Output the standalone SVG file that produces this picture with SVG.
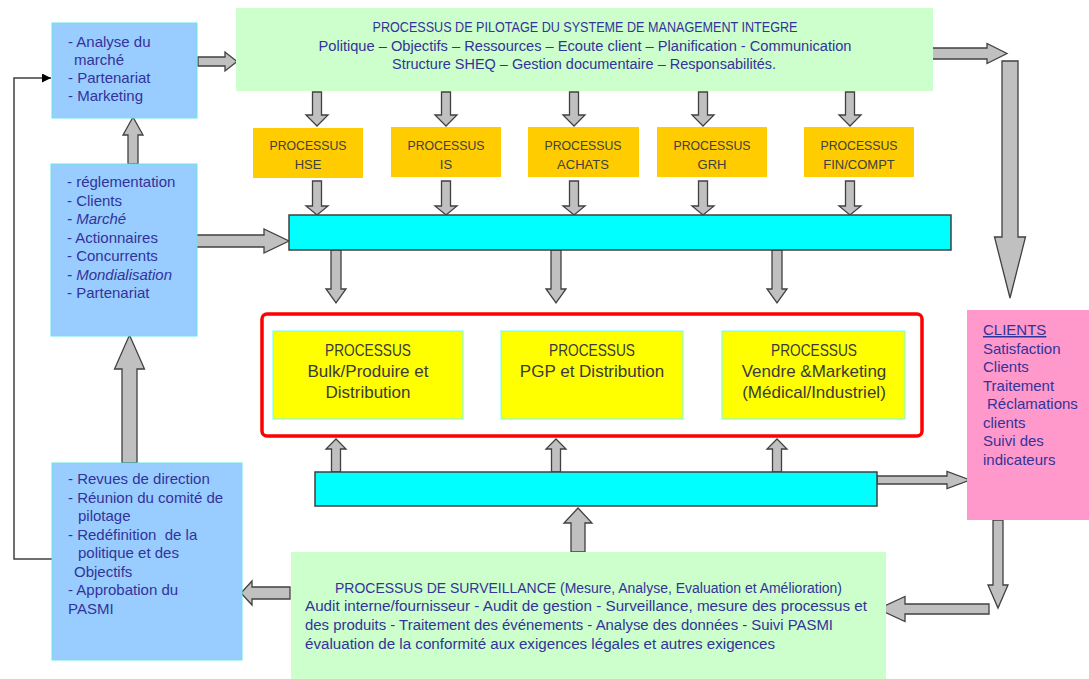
<svg xmlns="http://www.w3.org/2000/svg" xmlns:xlink="http://www.w3.org/1999/xlink" width="1089" height="679" viewBox="0 0 1089 679">
  <style>
    text { font-family: "Liberation Sans", Arial, sans-serif; }
    .blue { fill: #99CCFF; stroke: #66E6E6; stroke-width: 1; }
    .green { fill: #CCFFCC; }
    .orange { fill: #FFCC00; }
    .yellow { fill: #FFFF00; stroke: #66FFFF; stroke-width: 1; }
    .pink { fill: #FF99CC; }
    .bar { fill: #00FFFF; stroke: #404040; stroke-width: 1.5; }
    .frame { fill: #FFFFFF; stroke: #FF0000; stroke-width: 3.5; }
    .blk { fill: #C0C0C0; stroke: #404040; stroke-width: 1.3; stroke-linejoin: miter; }
    .navy { fill: #333399; font-size: 14px; }
    .list { fill: #333399; font-size: 15px; }
    .proc { fill: #404040; font-size: 13px; text-anchor: middle; }
    .core { fill: #3A3A3A; font-size: 17px; text-anchor: middle; }
    .mid { text-anchor: middle; }
    .feed { fill: none; stroke: #404040; stroke-width: 1.5; }
  </style>
  <defs>
    <!-- reusable block-arrow outlines, drawn from their base at the origin -->
    <path id="dnA" d="M-4.5,0 H4.5 V23 H11 L0,34 L-11,23 H-4.5 Z"/>
    <path id="dnB" d="M-4.5,0 H4.5 V25 H11 L0,34 L-11,25 H-4.5 Z"/>
    <path id="dnC" d="M-5,0 H5 V39 H10 L0,53 L-10,39 H-5 Z"/>
    <path id="upD" d="M-4.5,0 V-23 H-10 L0,-33 L10,-23 H4.5 V0 Z"/>
    <marker id="tip" viewBox="0 0 10 10" refX="10" refY="5" markerWidth="12" markerHeight="9" markerUnits="userSpaceOnUse" orient="auto">
      <path d="M0,0 L10,5 L0,10 Z" fill="#000000"/>
    </marker>
  </defs>

  <!-- connectors -->
  <g id="connectors">
    <polyline class="feed" points="52,559 14,559 14,78 51,78" marker-end="url(#tip)"/>

    <polygon class="blk" points="198,57 225,57 225,52 237,61.5 225,71 225,66 198,66"/>
    <polygon class="blk" points="932,48 987,48 987,43.5 1007,53.5 987,63.5 987,59 932,59"/>
    <polygon class="blk" points="1002,61 1018,61 1018,237 1025.5,237 1010,298 994.5,237 1002,237"/>
    <polygon class="blk" points="188,235 264,235 264,229 289,241 264,253 264,247 188,247"/>
    <polygon class="blk" points="128,164 128,135 123,135 133,117 143,135 138,135 138,164"/>
    <polygon class="blk" points="122,463 122,369 114.5,369 129.5,335 144.5,369 137,369 137,463"/>
    <polygon class="blk" points="290,587 252,587 252,581 241,593 252,605 252,599 290,599"/>
    <polygon class="blk" points="571,552 571,523 564,523 578,508 592,523 585,523 585,552"/>
    <polygon class="blk" points="877,476 947,476 947,471.5 970,480 947,488.5 947,484 877,484"/>
    <polygon class="blk" points="993,520 1003,520 1003,585 1008,585 998,608 988,585 993,585"/>
    <polygon class="blk" points="989,604 905,604 905,596.5 878,609 905,621.5 905,614 989,614"/>

    <!-- pilot box down to support processes -->
    <use class="blk" xlink:href="#dnA" x="317" y="92"/>
    <use class="blk" xlink:href="#dnA" x="446" y="92"/>
    <use class="blk" xlink:href="#dnA" x="574" y="92"/>
    <use class="blk" xlink:href="#dnA" x="703" y="92"/>
    <use class="blk" xlink:href="#dnA" x="850" y="92"/>
    <!-- support processes down to the upper bar -->
    <use class="blk" xlink:href="#dnB" x="317" y="181"/>
    <use class="blk" xlink:href="#dnB" x="446" y="181"/>
    <use class="blk" xlink:href="#dnB" x="574" y="181"/>
    <use class="blk" xlink:href="#dnB" x="703" y="181"/>
    <use class="blk" xlink:href="#dnB" x="850" y="181"/>
    <!-- upper bar down to the core processes -->
    <use class="blk" xlink:href="#dnC" x="336" y="250"/>
    <use class="blk" xlink:href="#dnC" x="556" y="250"/>
    <use class="blk" xlink:href="#dnC" x="777" y="250"/>
    <!-- lower bar up to the core processes -->
    <use class="blk" xlink:href="#upD" x="336" y="472"/>
    <use class="blk" xlink:href="#upD" x="556" y="472"/>
    <use class="blk" xlink:href="#upD" x="777" y="472"/>
  </g>

  <g id="marche">
    <rect class="blue" x="52" y="23" width="145" height="95"/>
    <text class="list" x="68" y="47">- Analyse du</text>
    <text class="list" x="74" y="65">marché</text>
    <text class="list" x="68" y="83">- Partenariat</text>
    <text class="list" x="68" y="101">- Marketing</text>
  </g>

  <g id="contexte">
    <rect class="blue" x="51" y="164" width="146" height="172"/>
    <text class="list" x="67" y="187">- réglementation</text>
    <text class="list" x="67" y="206">- Clients</text>
    <text class="list" x="67" y="224" font-style="italic">- Marché</text>
    <text class="list" x="67" y="243">- Actionnaires</text>
    <text class="list" x="67" y="261">- Concurrents</text>
    <text class="list" x="67" y="280" font-style="italic">- Mondialisation</text>
    <text class="list" x="67" y="298">- Partenariat</text>
  </g>

  <g id="revue">
    <rect class="blue" x="52" y="463" width="190" height="197"/>
    <text class="list" x="68" y="484">- Revues de direction</text>
    <text class="list" x="68" y="502.5">- Réunion du comité de</text>
    <text class="list" x="78" y="521">pilotage</text>
    <text class="list" x="68" y="539.5" xml:space="preserve">- Redéfinition  de la</text>
    <text class="list" x="78" y="558">politique et des</text>
    <text class="list" x="74" y="576.5">Objectifs</text>
    <text class="list" x="68" y="595">- Approbation du</text>
    <text class="list" x="68" y="613.5">PASMI</text>
  </g>

  <g id="pilotage">
    <rect class="green" x="236" y="8" width="697" height="83"/>
    <text class="navy mid" x="585" y="32" font-size="13" textLength="425" lengthAdjust="spacingAndGlyphs">PROCESSUS DE PILOTAGE DU SYSTEME DE MANAGEMENT INTEGRE</text>
    <text class="navy mid" x="585" y="51" textLength="533" lengthAdjust="spacingAndGlyphs">Politique – Objectifs – Ressources – Ecoute client – Planification - Communication</text>
    <text class="navy mid" x="584" y="69" textLength="384" lengthAdjust="spacingAndGlyphs">Structure SHEQ – Gestion documentaire – Responsabilités.</text>
  </g>

  <g id="hse">
    <rect class="orange" x="253" y="128" width="110" height="50"/>
    <text class="proc" x="308" y="150" textLength="77" lengthAdjust="spacingAndGlyphs">PROCESSUS</text>
    <text class="proc" x="308" y="169">HSE</text>
  </g>
  <g id="is">
    <rect class="orange" x="391" y="127" width="110" height="50"/>
    <text class="proc" x="446" y="149.5" textLength="77" lengthAdjust="spacingAndGlyphs">PROCESSUS</text>
    <text class="proc" x="446" y="168.5">IS</text>
  </g>
  <g id="achats">
    <rect class="orange" x="528" y="127" width="111" height="50"/>
    <text class="proc" x="583" y="149.5" textLength="77" lengthAdjust="spacingAndGlyphs">PROCESSUS</text>
    <text class="proc" x="583" y="168.5">ACHATS</text>
  </g>
  <g id="grh">
    <rect class="orange" x="657" y="127" width="110" height="50"/>
    <text class="proc" x="712" y="149.5" textLength="77" lengthAdjust="spacingAndGlyphs">PROCESSUS</text>
    <text class="proc" x="712" y="168.5">GRH</text>
  </g>
  <g id="fincompt">
    <rect class="orange" x="804" y="127" width="110" height="50"/>
    <text class="proc" x="859" y="149.5" textLength="77" lengthAdjust="spacingAndGlyphs">PROCESSUS</text>
    <text class="proc" x="859" y="168.5">FIN/COMPT</text>
  </g>

  <g id="bus-haut">
    <rect class="bar" x="289" y="215" width="662" height="35"/>
  </g>

  <g id="realisation">
    <rect class="frame" x="262" y="314" width="660" height="122" rx="5"/>
  </g>

  <g id="bulk">
    <rect class="yellow" x="273" y="331" width="190" height="88"/>
    <text class="core" x="368" y="356" textLength="86" lengthAdjust="spacingAndGlyphs">PROCESSUS</text>
    <text class="core" x="368" y="377">Bulk/Produire et</text>
    <text class="core" x="368" y="398">Distribution</text>
  </g>
  <g id="pgp">
    <rect class="yellow" x="501" y="331" width="182" height="88"/>
    <text class="core" x="592" y="356" textLength="86" lengthAdjust="spacingAndGlyphs">PROCESSUS</text>
    <text class="core" x="592" y="377">PGP et Distribution</text>
  </g>
  <g id="vendre">
    <rect class="yellow" x="722" y="331" width="183" height="88"/>
    <text class="core" x="814" y="356" textLength="86" lengthAdjust="spacingAndGlyphs">PROCESSUS</text>
    <text class="core" x="814" y="377">Vendre &amp;Marketing</text>
    <text class="core" x="814" y="398">(Médical/Industriel)</text>
  </g>

  <g id="bus-bas">
    <rect class="bar" x="315" y="472" width="562" height="34"/>
  </g>

  <g id="clients">
    <rect class="pink" x="967" y="310" width="122" height="210"/>
    <text class="list" x="983" y="335" text-decoration="underline">CLIENTS</text>
    <text class="list" x="983" y="354">Satisfaction</text>
    <text class="list" x="983" y="372">Clients</text>
    <text class="list" x="983" y="391">Traitement</text>
    <text class="list" x="987" y="409">Réclamations</text>
    <text class="list" x="983" y="428">clients</text>
    <text class="list" x="983" y="446">Suivi des</text>
    <text class="list" x="983" y="465">indicateurs</text>
  </g>

  <g id="surveillance">
    <rect class="green" x="291" y="552" width="595" height="127"/>
    <text class="navy mid" x="588.5" y="593" textLength="507" lengthAdjust="spacingAndGlyphs">PROCESSUS DE SURVEILLANCE (Mesure, Analyse, Evaluation et Amélioration)</text>
    <text class="navy" x="305" y="611" textLength="562" lengthAdjust="spacingAndGlyphs">Audit interne/fournisseur - Audit de gestion - Surveillance, mesure des processus et</text>
    <text class="navy" x="305" y="630" textLength="528" lengthAdjust="spacingAndGlyphs">des produits - Traitement des événements - Analyse des données - Suivi PASMI</text>
    <text class="navy" x="305" y="649" textLength="470" lengthAdjust="spacingAndGlyphs">évaluation de la conformité aux exigences légales et autres exigences</text>
  </g>
</svg>
